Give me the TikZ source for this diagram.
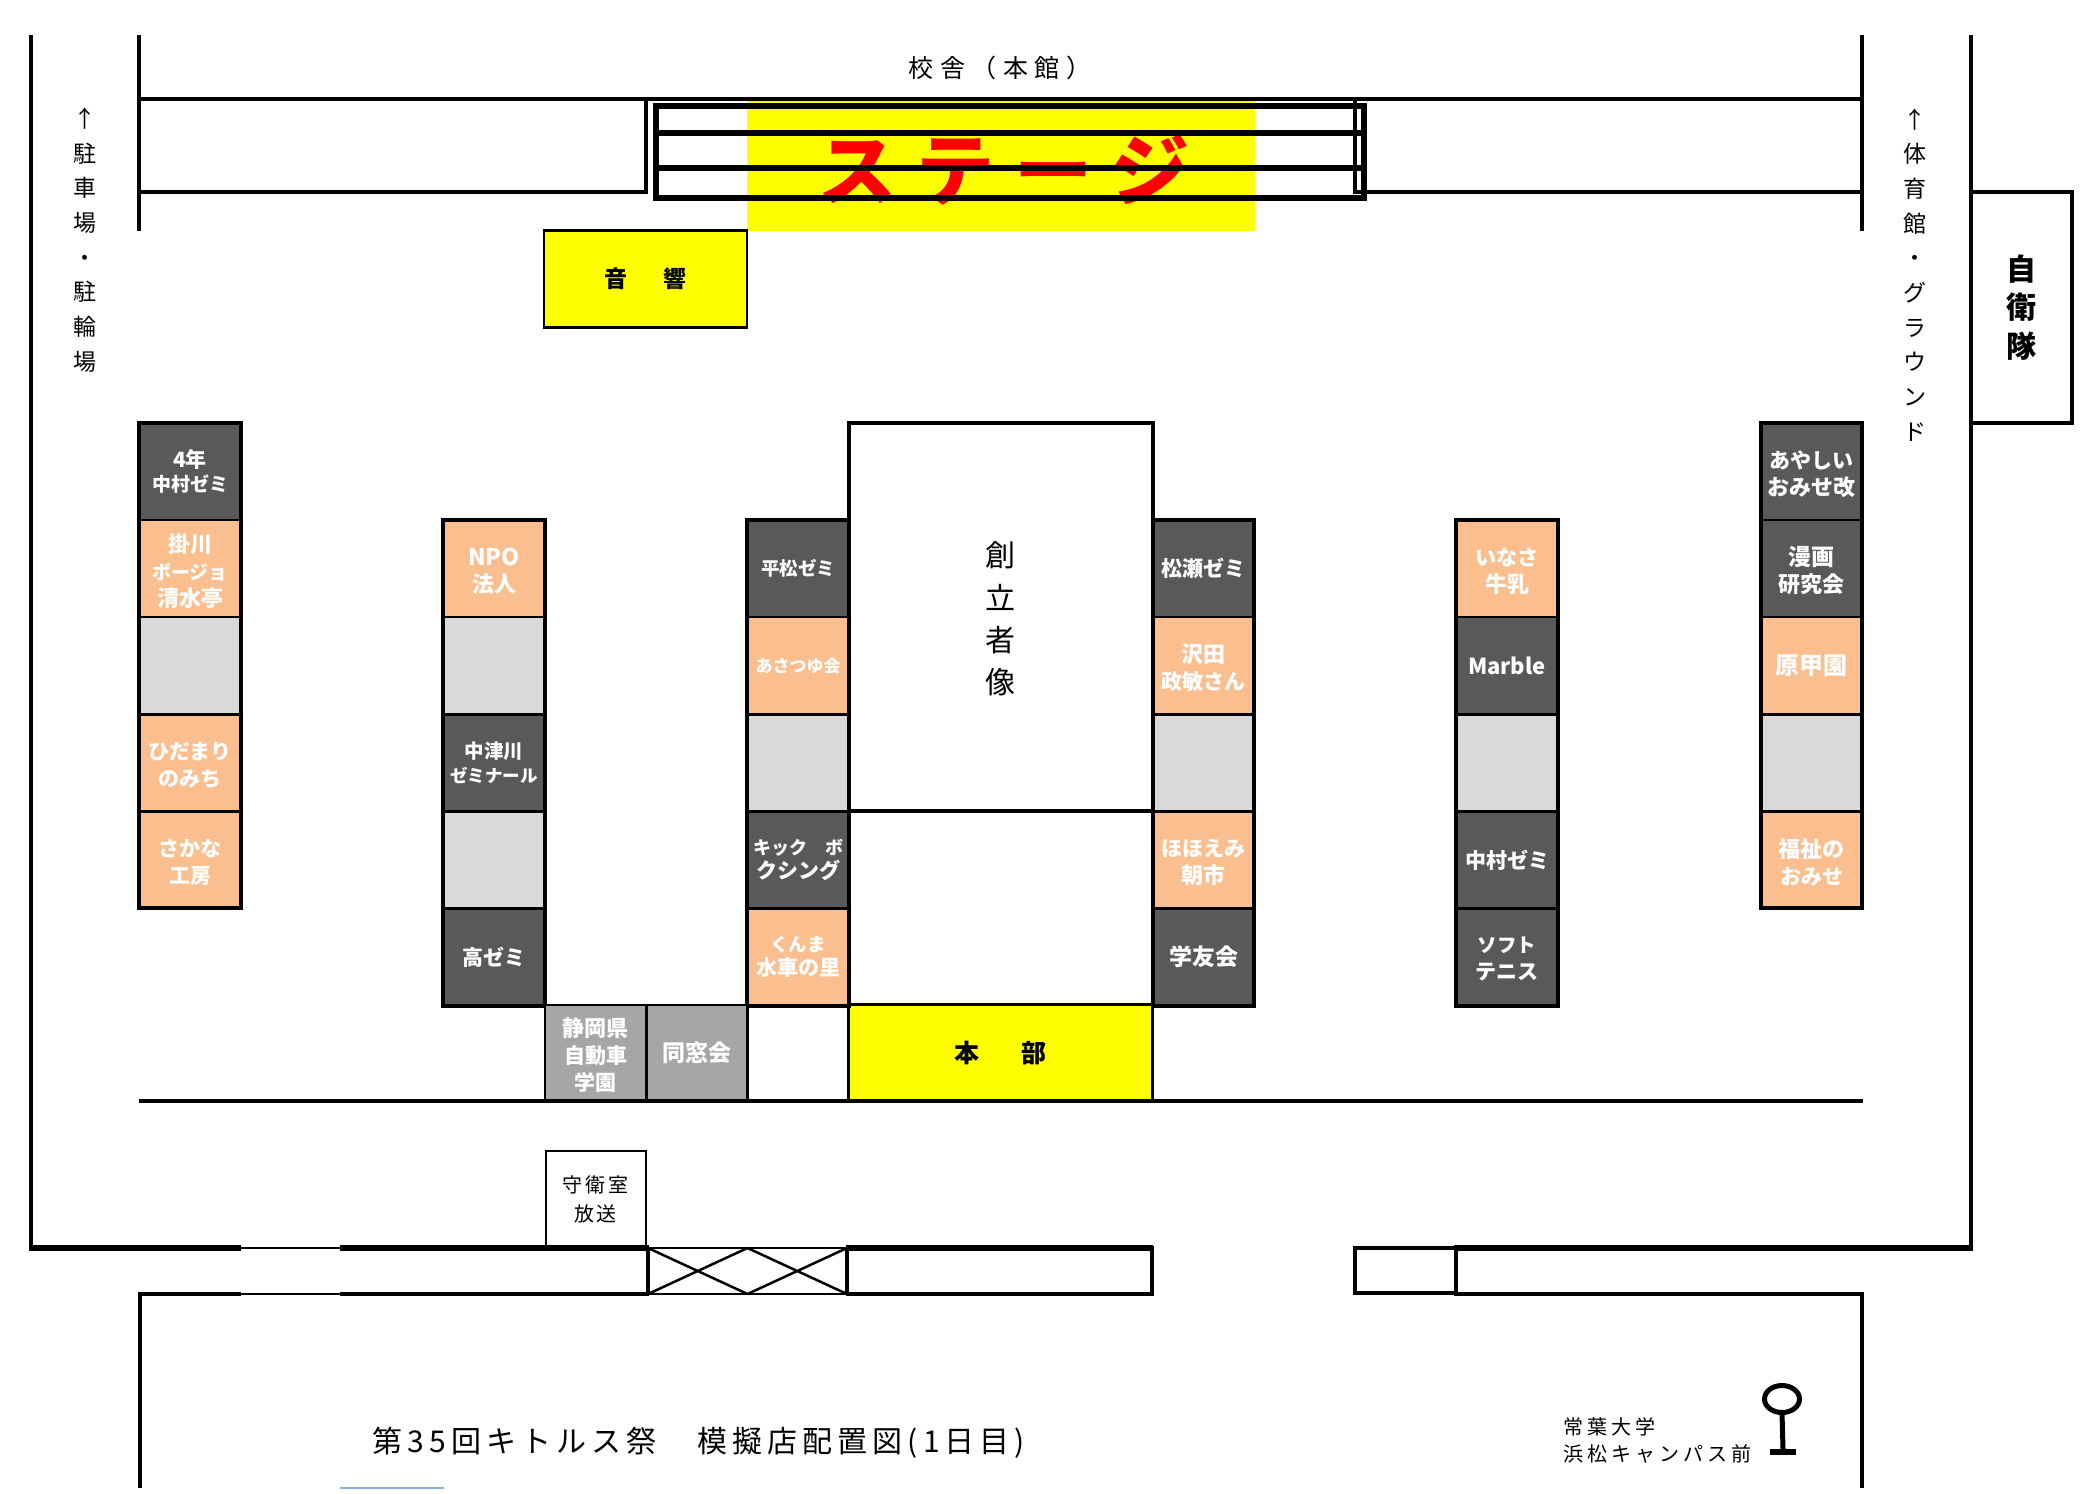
\documentclass[tikz,border=0pt]{standalone}
\usepackage{fontspec}
\usetikzlibrary{shapes.geometric}
\setmainfont{Noto Sans CJK JP}
\definecolor{cdark}{HTML}{595959}
\definecolor{corange}{HTML}{FBBF8F}
\definecolor{cgrey}{HTML}{D9D9D9}
\definecolor{cmid}{HTML}{A6A6A6}
\definecolor{cyel}{HTML}{FFFF00}
\definecolor{cblue}{HTML}{8FAADC}
\newcommand\sz[1]{\fontsize{#1}{27}\selectfont}
\newcommand\szt[1]{\fontsize{#1}{24}\selectfont}
\newcommand\ls[3]{\fontsize{#1}{#2}\selectfont\addfontfeature{LetterSpace=#3}}
\newcommand\lowend{\\[-29.4pt]}
\tikzset{
  wall/.style={line width=4pt,black},
  thickwall/.style={line width=5.7pt,black},
  lowwall/.style={line width=4.4pt,black},
  thinwall/.style={line width=2pt,black},
  stagebar/.style={line width=5.5pt,black},
  cell/.style={draw=black,line width=2.5pt,minimum width=101.5pt,minimum height=97.1pt,inner sep=0pt,outer sep=0pt,align=center,text=white,font=\bfseries\sz{21}},
  darkcell/.style={cell,fill=cdark},
  orangecell/.style={cell,fill=corange},
  greycell/.style={cell,fill=cgrey},
  midcell/.style={cell,fill=cmid,minimum height=95.5pt},
  tightcell/.style={font=\bfseries\szt{21}},
  outline/.style={draw=black,line width=4pt},
  label/.style={inner sep=0pt,outer sep=0pt,align=center,text=black}
}
\begin{document}
\begin{tikzpicture}[x=1pt,y=-1pt]
\useasboundingbox (0,0) rectangle (2094,1494);
\fill[white] (0,0) rectangle (2094,1494);

% stage background and title
\fill[cyel] (747,101) rectangle (1255,231);
\node[label,text=red,font=\bfseries\ls{78}{78}{26}] (stagetext) at (1004,170) {ステージ};

% walls of the main building
\draw[wall] (31,35) -- (31,1250);
\draw[wall] (139,35) -- (139,231);
\draw[wall] (1862,35) -- (1862,231);
\draw[wall] (1971,35) -- (1971,1250);
\draw[wall] (137,99) -- (1864,99);
\draw[wall] (137,192) -- (645.5,192) -- (645.5,99);
\draw[wall] (1355,99) -- (1355,192) -- (1864,192);

% stage frame
\draw[line width=6.5pt] (656,106) rectangle (1364,198);
\draw[stagebar] (656,133) -- (1364,133);
\draw[stagebar] (656,168) -- (1364,168);

% sound booth
\node[draw=black,fill=cyel,line width=2.8pt,minimum width=203pt,minimum height=97pt,inner sep=0pt,outer sep=0pt,font=\bfseries\sz{23}] (sound) at (645.5,279) {音\hspace{37pt}響};

% labels
\node[label,font=\ls{25}{25}{26}] (honkan) at (1000,68) {校舎（本館）};
\node[label,font=\fontsize{23}{34.7}\selectfont] (parking) at (85,240) {↑\\駐\\車\\場\\・\\駐\\輪\\場};
\node[label,font=\fontsize{23}{34.7}\selectfont] (gym) at (1915,275) {↑\\体\\育\\館\\・\\グ\\ラ\\ウ\\ン\\ド};

% self defence
\node[draw=black,line width=4pt,minimum width=101pt,minimum height=231pt,inner sep=0pt,outer sep=0pt,align=center,font=\bfseries\fontsize{30}{38.5}\selectfont] (jieitai) at (2021,307.5) {自\\衛\\隊};

% statue and HQ block
\node[draw=black,fill=white,line width=3.5pt,minimum width=304pt,minimum height=388pt,inner sep=0pt,outer sep=0pt,align=center,font=\fontsize{30}{42.3}\selectfont] (statue) at (1001,617) {};
\node[label,font=\fontsize{30}{42.3}\selectfont] (statuetext) at (1000,619) {創\\立\\者\\像};
\draw[line width=3pt] (849,811) -- (849,1005) (1153,811) -- (1153,1005);
\node[draw=black,fill=cyel,line width=3pt,minimum width=304pt,minimum height=96pt,inner sep=0pt,outer sep=0pt,font=\bfseries\sz{25}] (honbu) at (1000,1052.5) {本\hspace{42pt}部};

% column 1
\node[darkcell,tightcell]   (a1) at (190,471.5) {\szt{21}4年\\\szt{19}中村ゼミ};
\node[orangecell] (a2) at (190,568.6) {\sz{22}掛川\\\sz{19}ボージョ\\\sz{22}清水亭\lowend};
\node[greycell]   (a3) at (190,665.7) {};
\node[orangecell] (a4) at (190,762.8) {ひだまり\\のみち\lowend};
\node[orangecell] (a5) at (190,859.9) {さかな\\工房\lowend};
\draw[outline] (a1.north west) rectangle (a5.south east);

% column 2
\node[orangecell] (b1) at (494,568.6) {\sz{23}NPO\\\sz{22}法人\lowend};
\node[greycell]   (b2) at (494,665.7) {};
\node[darkcell,tightcell]   (b3) at (494,762.8) {\szt{19.5}中津川\\\szt{17.5}ゼミナール};
\node[greycell]   (b4) at (494,859.9) {};
\node[darkcell]   (b5) at (494,957) {\sz{21}高ゼミ};
\draw[outline] (b1.north west) rectangle (b5.south east);

% column 3
\node[darkcell]   (c1) at (798,568.6) {\sz{18.5}平松ゼミ};
\node[orangecell] (c2) at (798,665.7) {\sz{17}あさつゆ会};
\node[greycell]   (c3) at (798,762.8) {};
\node[darkcell,tightcell]   (c4) at (798,859.9) {\szt{18}キック　ボ\\クシング};
\node[orangecell,tightcell] (c5) at (798,957) {\szt{18.5}くんま\\水車の里};
\draw[outline] (c1.north west) rectangle (c5.south east);

% column 4
\node[darkcell]   (d1) at (1203.5,568.6) {松瀬ゼミ};
\node[orangecell] (d2) at (1203.5,665.7) {\sz{22}沢田\\政敏さん\lowend};
\node[greycell]   (d3) at (1203.5,762.8) {};
\node[orangecell] (d4) at (1203.5,859.9) {ほほえみ\\\sz{22}朝市\lowend};
\node[darkcell]   (d5) at (1203.5,957) {\sz{23}学友会};
\draw[outline] (d1.north west) rectangle (d5.south east);

% column 5
\node[orangecell] (e1) at (1507,568.6) {いなさ\\\sz{22}牛乳\lowend};
\node[darkcell]   (e2) at (1507,665.7) {\sz{22}Marble};
\node[greycell]   (e3) at (1507,762.8) {};
\node[darkcell]   (e4) at (1507,859.9) {中村ゼミ};
\node[darkcell]   (e5) at (1507,957) {\sz{19.5}ソフト\\テニス\lowend};
\draw[outline] (e1.north west) rectangle (e5.south east);

% column 6
\node[darkcell]   (f1) at (1811.5,471.5) {あやしい\\\sz{22}おみせ改\lowend};
\node[darkcell]   (f2) at (1811.5,568.6) {\sz{23}漫画\\\sz{22}研究会\lowend};
\node[orangecell] (f3) at (1811.5,665.7) {\sz{24}原甲園};
\node[greycell]   (f4) at (1811.5,762.8) {};
\node[orangecell] (f5) at (1811.5,859.9) {\sz{22}福祉の\\\sz{21}おみせ\lowend};
\draw[outline] (f1.north west) rectangle (f5.south east);

% front stalls
\node[midcell] (g1) at (595.5,1052.5) {\sz{22}静岡県\\自動車\\学園\lowend};
\node[midcell] (g2) at (697,1052.5) {\sz{23}同窓会};
\draw[line width=2.5pt] (747.5,1005) -- (747.5,1100);

% road line
\draw[line width=4pt] (139,1100.5) -- (1863,1100.5);

% guard room
\node[draw=black,fill=white,line width=2pt,minimum width=100pt,minimum height=97pt,inner sep=0pt,outer sep=0pt,align=center,font=\ls{20}{28.5}{14}] (guard) at (595.5,1199.5) {守衛室\\放送};

% front wall, left part
\draw[thickwall] (29,1248) -- (241,1248);
\draw[thinwall] (241,1248) -- (340,1248);
\draw[thickwall] (340,1248) -- (649,1248);
\draw[lowwall] (138,1294) -- (241,1294);
\draw[thinwall] (241,1294) -- (340,1294);
\draw[lowwall] (340,1294) -- (649,1294);
\draw[wall] (140,1294) -- (140,1488);

% gate
\node[draw=black,line width=2.5pt,minimum width=199pt,minimum height=46pt,inner sep=0pt,outer sep=0pt] (gate) at (747.5,1271) {};
\draw[line width=2.5pt] (gate.north west) -- (gate.south) (gate.south west) -- (gate.north) (gate.north) -- (gate.south east) (gate.south) -- (gate.north east);
\draw[line width=4.5pt] (gate.north west) -- (gate.south west) (gate.north east) -- (gate.south east);

% front wall, middle
\draw[thickwall] (846,1248) -- (1153,1248);
\draw[lowwall] (846,1294) -- (1153,1294);
\draw[line width=3.5pt] (1152,1246) -- (1152,1296);

% front wall, right part
\draw[line width=3.5pt] (1355,1248) rectangle (1456,1293);
\draw[thickwall] (1454,1248) -- (1973,1248);
\draw[lowwall] (1454,1294) -- (1864,1294);
\draw[wall] (1862,1294) -- (1862,1488);

% stray blue rule
\draw[cblue,line width=2pt] (340,1488) -- (444,1488);

% title
\node[label,font=\ls{30}{30}{17}] (title) at (699,1443) {第35回キトルス祭　模擬店配置図(1日目)};

% bus stop
\node[label,anchor=west,align=left,font=\ls{20}{27}{20}] (busstop) at (1563,1440) {常葉大学\\浜松キャンパス前};
\node[draw=black,line width=5pt,ellipse,inner sep=0pt,outer sep=0pt,minimum width=35pt,minimum height=27pt] (busring) at (1782,1399) {};
\node[fill=black,minimum width=26pt,minimum height=6pt,inner sep=0pt,outer sep=0pt] (busbase) at (1783,1452) {};
\draw[line width=5pt] (busring.south) -- (busbase.north);
\end{tikzpicture}
\end{document}
